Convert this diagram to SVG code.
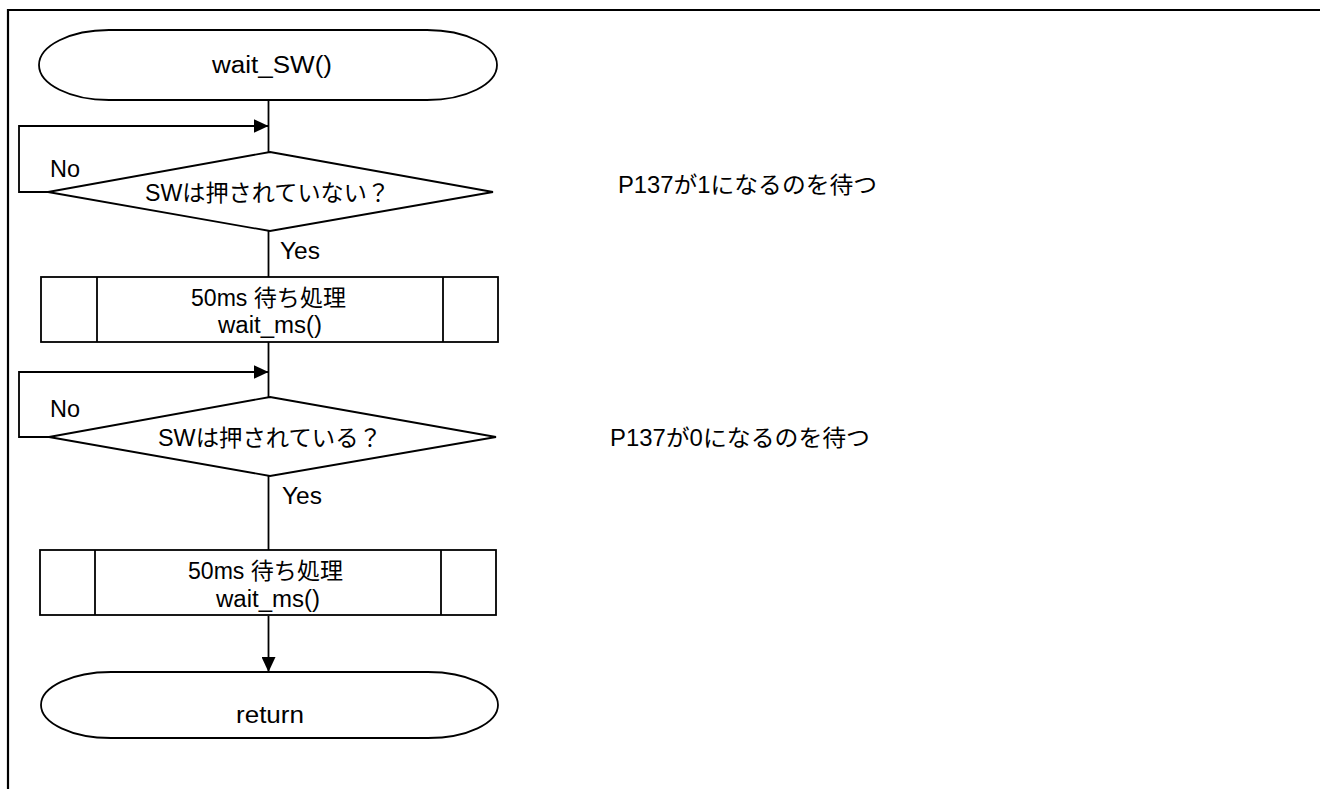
<svg xmlns="http://www.w3.org/2000/svg" width="1320" height="789" viewBox="0 0 1320 789">
<style>
.shape{fill:#fff;stroke:#000;stroke-width:1.8}
.line{fill:none;stroke:#000;stroke-width:1.8}
.t{font-family:"Liberation Sans","Noto Sans CJK JP",sans-serif;fill:#000;font-size:23px}
</style>
<defs>
<marker id="arr" viewBox="0 0 15 14" refX="15" refY="7" markerWidth="15" markerHeight="14" markerUnits="userSpaceOnUse" orient="auto">
<path d="M0,0 L15,7 L0,14 Z" fill="#000"/>
</marker>
</defs>
<rect width="1320" height="789" fill="#fff"/>
<polyline points="8,789 8,10 1320,10" fill="none" stroke="#000" stroke-width="2.2"/>
<g id="connectors">
<line class="line" x1="268.5" y1="100" x2="268.5" y2="152"/>
<polyline class="line" points="48,192 19,192 19,126 268.5,126" marker-end="url(#arr)"/>
<line class="line" x1="268.5" y1="231" x2="268.5" y2="277"/>
<line class="line" x1="268.5" y1="342" x2="268.5" y2="397"/>
<polyline class="line" points="49,437 19,437 19,372 268.5,372" marker-end="url(#arr)"/>
<line class="line" x1="268.5" y1="476" x2="268.5" y2="550"/>
<line class="line" x1="268.5" y1="616" x2="268.5" y2="672" marker-end="url(#arr)"/>
<text class="t" x="50" y="177" textLength="30" lengthAdjust="spacingAndGlyphs">No</text>
<text class="t" x="280" y="259" textLength="40" lengthAdjust="spacingAndGlyphs">Yes</text>
<text class="t" x="50" y="417" textLength="30" lengthAdjust="spacingAndGlyphs">No</text>
<text class="t" x="282" y="504" textLength="40" lengthAdjust="spacingAndGlyphs">Yes</text>
</g>
<g id="start">
<rect class="shape" x="39" y="30" width="458" height="70" rx="70" ry="35"/>
<text class="t" x="212" y="73" textLength="120" lengthAdjust="spacingAndGlyphs">wait_SW()</text>
</g>
<g id="decision1">
<polygon class="shape" points="270,152 493,192 270,231 48,192"/>
<text class="t" x="145" y="201" textLength="245" lengthAdjust="spacingAndGlyphs">SWは押されていない？</text>
</g>
<g id="note1">
<text class="t" x="618" y="193" textLength="259" lengthAdjust="spacingAndGlyphs">P137が1になるのを待つ</text>
</g>
<g id="process1">
<rect class="shape" x="41" y="277" width="457" height="65"/>
<line class="line" x1="97" y1="277" x2="97" y2="342"/>
<line class="line" x1="443" y1="277" x2="443" y2="342"/>
<text class="t" x="191" y="306" textLength="155" lengthAdjust="spacingAndGlyphs">50ms 待ち処理</text>
<text class="t" x="218" y="333" textLength="104" lengthAdjust="spacingAndGlyphs">wait_ms()</text>
</g>
<g id="decision2">
<polygon class="shape" points="270,397 496,437 270,476 49,437"/>
<text class="t" x="158" y="446" textLength="224" lengthAdjust="spacingAndGlyphs">SWは押されている？</text>
</g>
<g id="note2">
<text class="t" x="610" y="446" textLength="260" lengthAdjust="spacingAndGlyphs">P137が0になるのを待つ</text>
</g>
<g id="process2">
<rect class="shape" x="40" y="550" width="456" height="65"/>
<line class="line" x1="95" y1="550" x2="95" y2="615"/>
<line class="line" x1="441" y1="550" x2="441" y2="615"/>
<text class="t" x="188" y="579" textLength="155" lengthAdjust="spacingAndGlyphs">50ms 待ち処理</text>
<text class="t" x="216" y="607" textLength="104" lengthAdjust="spacingAndGlyphs">wait_ms()</text>
</g>
<g id="end">
<rect class="shape" x="41" y="672" width="457" height="66" rx="70" ry="33"/>
<text class="t" x="236" y="723" textLength="68" lengthAdjust="spacingAndGlyphs">return</text>
</g>
</svg>
